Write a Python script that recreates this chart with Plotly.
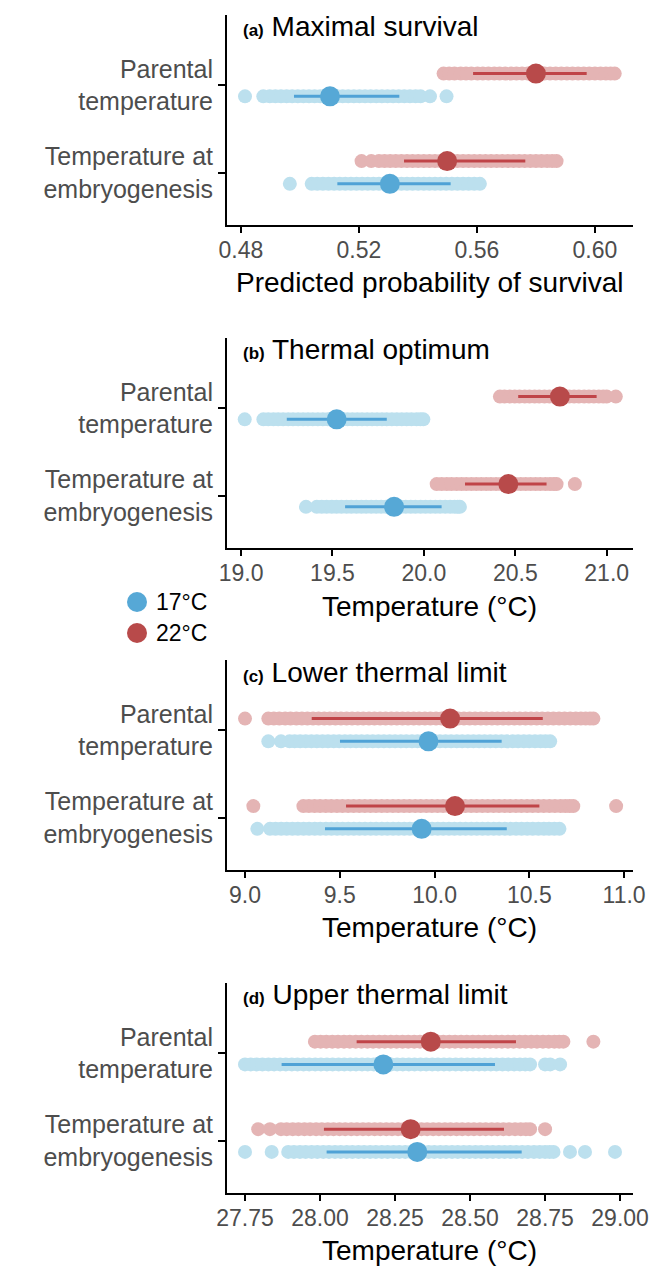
import plotly.graph_objects as go

W, H = 651, 1268

# ---------------- data ----------------
row_labels = ["Temperature at<br>embryogenesis", "Parental<br>temperature"]  # y = 1, 2
groups = ["17°C", "22°C"]

# (a) Maximal survival
a_par_22 = [0.5487, 0.5506, 0.5524, 0.5545, 0.5563, 0.5581, 0.5602, 0.5620, 0.5639, 0.5659, 0.5677, 0.5696,
            0.5716, 0.5734, 0.5753, 0.5772, 0.5791, 0.5810, 0.5829, 0.5848, 0.5867, 0.5886, 0.5905, 0.5924,
            0.5943, 0.5962, 0.5981, 0.6000, 0.6019, 0.6037, 0.6053, 0.6067]
a_par_17 = [0.4814, 0.4876, 0.4898, 0.4917, 0.4936, 0.4955, 0.4974, 0.4993, 0.5012, 0.5031, 0.5050, 0.5069,
            0.5088, 0.5107, 0.5126, 0.5145, 0.5164, 0.5183, 0.5202, 0.5221, 0.5240, 0.5259, 0.5278, 0.5297,
            0.5316, 0.5335, 0.5354, 0.5373, 0.5392, 0.5409, 0.5441, 0.5497]
a_emb_22 = [0.5209, 0.5242, 0.5268, 0.5287, 0.5306, 0.5325, 0.5344, 0.5363, 0.5382, 0.5401, 0.5420, 0.5439,
            0.5458, 0.5477, 0.5496, 0.5515, 0.5534, 0.5553, 0.5572, 0.5591, 0.5610, 0.5629, 0.5648, 0.5667,
            0.5686, 0.5705, 0.5724, 0.5743, 0.5762, 0.5781, 0.5800, 0.5819, 0.5838, 0.5855, 0.5870]
a_emb_17 = [0.4966, 0.5040, 0.5059, 0.5078, 0.5097, 0.5116, 0.5135, 0.5154, 0.5173, 0.5192, 0.5211, 0.5230,
            0.5249, 0.5268, 0.5287, 0.5306, 0.5325, 0.5344, 0.5363, 0.5382, 0.5401, 0.5420, 0.5439, 0.5458,
            0.5477, 0.5496, 0.5515, 0.5534, 0.5553, 0.5572, 0.5591, 0.5610]
a_mean_17 = [0.5305, 0.5102]   # [embryogenesis, parental]
a_lo_17 = [0.5127, 0.4980]
a_hi_17 = [0.5511, 0.5337]
a_mean_22 = [0.5499, 0.5800]
a_lo_22 = [0.5353, 0.5587]
a_hi_22 = [0.5764, 0.5972]
a_ticks = [0.48, 0.52, 0.56, 0.60]
a_ticktext = ["0.48", "0.52", "0.56", "0.60"]

# (b) Thermal optimum
b_par_22 = [20.416, 20.441, 20.470, 20.497, 20.523, 20.552, 20.578, 20.606, 20.631, 20.660, 20.687, 20.713,
            20.741, 20.768, 20.795, 20.822, 20.848, 20.877, 20.903, 20.930, 20.957, 20.981, 21.000, 21.050]
b_par_17 = [19.020, 19.122, 19.149, 19.177, 19.203, 19.230, 19.258, 19.284, 19.312, 19.339, 19.366, 19.392,
            19.420, 19.447, 19.474, 19.501, 19.527, 19.555, 19.582, 19.609, 19.636, 19.662, 19.690, 19.717,
            19.744, 19.771, 19.797, 19.825, 19.852, 19.879, 19.906, 19.932, 19.960, 19.981, 19.997]
b_emb_22 = [20.070, 20.097, 20.125, 20.151, 20.179, 20.206, 20.232, 20.260, 20.287, 20.314, 20.341, 20.367,
            20.395, 20.422, 20.449, 20.476, 20.502, 20.530, 20.557, 20.584, 20.611, 20.637, 20.665, 20.690,
            20.711, 20.726, 20.826]
b_emb_17 = [19.355, 19.414, 19.441, 19.468, 19.496, 19.522, 19.549, 19.577, 19.603, 19.631, 19.658, 19.684,
            19.712, 19.739, 19.766, 19.793, 19.819, 19.847, 19.874, 19.901, 19.928, 19.954, 19.982, 20.009,
            20.036, 20.063, 20.089, 20.117, 20.144, 20.168, 20.185, 20.197]
b_mean_17 = [19.837, 19.523]
b_lo_17 = [19.569, 19.25]
b_hi_17 = [20.097, 19.797]
b_mean_22 = [20.462, 20.744]
b_lo_22 = [20.225, 20.516]
b_hi_22 = [20.671, 20.945]
b_ticks = [19.0, 19.5, 20.0, 20.5, 21.0]
b_ticktext = ["19.0", "19.5", "20.0", "20.5", "21.0"]

# (c) Lower thermal limit
c_par_22 = [9.000, 9.123, 9.152, 9.181, 9.212, 9.240, 9.271, 9.300, 9.329, 9.359, 9.388, 9.418, 9.447, 9.477,
            9.506, 9.536, 9.565, 9.595, 9.624, 9.654, 9.683, 9.713, 9.742, 9.772, 9.801, 9.831, 9.860, 9.890,
            9.919, 9.949, 9.978, 10.008, 10.037, 10.067, 10.096, 10.126, 10.155, 10.185, 10.214, 10.244,
            10.273, 10.303, 10.332, 10.362, 10.391, 10.421, 10.450, 10.480, 10.509, 10.539, 10.568, 10.598,
            10.627, 10.657, 10.686, 10.716, 10.745, 10.772, 10.797, 10.820, 10.838]
c_par_17 = [9.123, 9.190, 9.235, 9.262, 9.291, 9.320, 9.350, 9.379, 9.409, 9.438, 9.468, 9.497, 9.527, 9.556,
            9.586, 9.615, 9.645, 9.674, 9.704, 9.733, 9.763, 9.792, 9.822, 9.851, 9.881, 9.910, 9.940, 9.969,
            9.999, 10.028, 10.058, 10.087, 10.117, 10.146, 10.176, 10.205, 10.235, 10.264, 10.294, 10.323,
            10.353, 10.382, 10.412, 10.441, 10.471, 10.500, 10.530, 10.559, 10.585, 10.610]
c_emb_22 = [9.044, 9.308, 9.337, 9.367, 9.396, 9.426, 9.455, 9.485, 9.514, 9.544, 9.573, 9.603, 9.632, 9.662,
            9.691, 9.721, 9.750, 9.780, 9.809, 9.839, 9.868, 9.898, 9.927, 9.957, 9.986, 10.016, 10.045,
            10.075, 10.104, 10.134, 10.163, 10.193, 10.222, 10.252, 10.281, 10.311, 10.340, 10.370, 10.399,
            10.429, 10.458, 10.488, 10.517, 10.547, 10.576, 10.606, 10.635, 10.665, 10.690, 10.712, 10.732,
            10.958]
c_emb_17 = [9.065, 9.132, 9.161, 9.191, 9.220, 9.250, 9.279, 9.309, 9.338, 9.368, 9.397, 9.427, 9.456, 9.486,
            9.515, 9.545, 9.574, 9.604, 9.633, 9.663, 9.692, 9.722, 9.751, 9.781, 9.810, 9.840, 9.869, 9.899,
            9.928, 9.958, 9.987, 10.017, 10.046, 10.076, 10.105, 10.135, 10.164, 10.194, 10.223, 10.253,
            10.282, 10.312, 10.341, 10.371, 10.400, 10.430, 10.459, 10.489, 10.518, 10.548, 10.577, 10.604,
            10.632, 10.659]
c_mean_17 = [9.932, 9.968]
c_lo_17 = [9.422, 9.501]
c_hi_17 = [10.381, 10.354]
c_mean_22 = [10.108, 10.082]
c_lo_22 = [9.533, 9.352]
c_hi_22 = [10.553, 10.571]
c_ticks = [9.0, 9.5, 10.0, 10.5, 11.0]
c_ticktext = ["9.0", "9.5", "10.0", "10.5", "11.0"]

# (d) Upper thermal limit
d_par_22 = [27.983, 28.002, 28.021, 28.041, 28.060, 28.080, 28.099, 28.119, 28.138, 28.158, 28.177, 28.197,
            28.216, 28.236, 28.255, 28.275, 28.294, 28.314, 28.333, 28.353, 28.372, 28.392, 28.411, 28.431,
            28.450, 28.470, 28.489, 28.509, 28.528, 28.548, 28.567, 28.587, 28.606, 28.626, 28.645, 28.665,
            28.684, 28.704, 28.723, 28.743, 28.762, 28.781, 28.797, 28.811, 28.911]
d_par_17 = [27.750, 27.769, 27.789, 27.808, 27.828, 27.847, 27.867, 27.886, 27.906, 27.925, 27.945, 27.964,
            27.984, 28.003, 28.023, 28.042, 28.062, 28.081, 28.101, 28.120, 28.140, 28.159, 28.179, 28.198,
            28.218, 28.237, 28.257, 28.276, 28.296, 28.315, 28.335, 28.354, 28.374, 28.393, 28.413, 28.432,
            28.452, 28.471, 28.491, 28.510, 28.530, 28.549, 28.569, 28.588, 28.608, 28.627, 28.647, 28.666,
            28.684, 28.700, 28.750, 28.767, 28.800]
d_emb_22 = [27.794, 27.833, 27.870, 27.889, 27.909, 27.928, 27.948, 27.967, 27.987, 28.006, 28.026, 28.045,
            28.065, 28.084, 28.104, 28.123, 28.143, 28.162, 28.182, 28.201, 28.221, 28.240, 28.260, 28.279,
            28.299, 28.318, 28.338, 28.357, 28.377, 28.396, 28.416, 28.435, 28.455, 28.474, 28.494, 28.513,
            28.533, 28.552, 28.572, 28.591, 28.611, 28.630, 28.650, 28.669, 28.686, 28.700, 28.750]
d_emb_17 = [27.750, 27.839, 27.894, 27.913, 27.933, 27.952, 27.972, 27.991, 28.011, 28.030, 28.050, 28.069,
            28.089, 28.108, 28.128, 28.147, 28.167, 28.186, 28.206, 28.225, 28.245, 28.264, 28.284, 28.303,
            28.323, 28.342, 28.362, 28.381, 28.401, 28.420, 28.440, 28.459, 28.479, 28.498, 28.518, 28.537,
            28.557, 28.576, 28.596, 28.615, 28.635, 28.654, 28.674, 28.693, 28.713, 28.732, 28.750, 28.765,
            28.778, 28.833, 28.883, 28.983]
d_mean_17 = [28.324, 28.211]
d_lo_17 = [28.022, 27.872]
d_hi_17 = [28.672, 28.583]
d_mean_22 = [28.302, 28.369]
d_lo_22 = [28.013, 28.122]
d_hi_22 = [28.613, 28.653]
d_ticks = [27.75, 28.00, 28.25, 28.50, 28.75, 29.00]
d_ticktext = ["27.75", "28.00", "28.25", "28.50", "28.75", "29.00"]

panel_titles = ["(a)", "(b)", "(c)", "(d)"]
panel_names = ["Maximal survival", "Thermal optimum", "Lower thermal limit", "Upper thermal limit"]
x_titles = ["Predicted probability of survival", "Temperature (°C)", "Temperature (°C)", "Temperature (°C)"]

# ---------------- style ----------------
FONT = "Liberation Sans, Arial, sans-serif"
LIGHT = {"17°C": "#BCE0EE", "22°C": "#E4B4B4"}
DARK = {"17°C": "#56A8D6", "22°C": "#B84A4A"}
LINEC = {"17°C": "#4FA2D6", "22°C": "#C04448"}
OFFSET = {"17°C": -0.13, "22°C": 0.13}

panels = [
    dict(samples={"17°C": [a_emb_17, a_par_17], "22°C": [a_emb_22, a_par_22]},
         mean={"17°C": a_mean_17, "22°C": a_mean_22}, lo={"17°C": a_lo_17, "22°C": a_lo_22},
         hi={"17°C": a_hi_17, "22°C": a_hi_22}, ticks=a_ticks, ticktext=a_ticktext, xrange=[0.4753, 0.6129]),
    dict(samples={"17°C": [b_emb_17, b_par_17], "22°C": [b_emb_22, b_par_22]},
         mean={"17°C": b_mean_17, "22°C": b_mean_22}, lo={"17°C": b_lo_17, "22°C": b_lo_22},
         hi={"17°C": b_hi_17, "22°C": b_hi_22}, ticks=b_ticks, ticktext=b_ticktext, xrange=[18.923, 21.144]),
    dict(samples={"17°C": [c_emb_17, c_par_17], "22°C": [c_emb_22, c_par_22]},
         mean={"17°C": c_mean_17, "22°C": c_mean_22}, lo={"17°C": c_lo_17, "22°C": c_lo_22},
         hi={"17°C": c_hi_17, "22°C": c_hi_22}, ticks=c_ticks, ticktext=c_ticktext, xrange=[8.905, 11.047]),
    dict(samples={"17°C": [d_emb_17, d_par_17], "22°C": [d_emb_22, d_par_22]},
         mean={"17°C": d_mean_17, "22°C": d_mean_22}, lo={"17°C": d_lo_17, "22°C": d_lo_22},
         hi={"17°C": d_hi_17, "22°C": d_hi_22}, ticks=d_ticks, ticktext=d_ticktext, xrange=[27.69, 29.043]),
]

panel_px = [(15, 225), (338, 548), (660, 870), (983, 1193)]
XL, XR = 227, 633
title_y = [44, 367, 690, 1012]
xtitle_y = [283, 606, 927, 1250]


def py(p):
    return 1 - p / H


fig = go.Figure()
layout = dict(
    width=W, height=H, margin=dict(l=0, r=0, t=0, b=0, autoexpand=False),
    paper_bgcolor="white", plot_bgcolor="white", showlegend=False,
    font=dict(family=FONT, color="black"),
)
annotations = []
shapes = []

for i, P in enumerate(panels):
    sfx = "" if i == 0 else str(i + 1)
    xa, ya = "x" + sfx, "y" + sfx
    # light sample points
    for g in groups:
        for r in range(2):
            vals = P["samples"][g][r]
            fig.add_trace(go.Scatter(
                x=vals, y=[r + 1 + OFFSET[g]] * len(vals), mode="markers",
                marker=dict(size=14, color=LIGHT[g], line=dict(width=0)),
                xaxis=xa, yaxis=ya, hoverinfo="skip"))
    # intervals
    for g in groups:
        for r in range(2):
            yy = r + 1 + OFFSET[g]
            fig.add_trace(go.Scatter(
                x=[P["lo"][g][r], P["hi"][g][r]], y=[yy, yy], mode="lines",
                line=dict(color=LINEC[g], width=3), xaxis=xa, yaxis=ya, hoverinfo="skip"))
    # means
    for g in groups:
        fig.add_trace(go.Scatter(
            x=P["mean"][g], y=[r + 1 + OFFSET[g] for r in range(2)], mode="markers",
            marker=dict(size=20, color=DARK[g], line=dict(width=0)),
            xaxis=xa, yaxis=ya, hoverinfo="skip"))

    top, bot = panel_px[i]
    layout["xaxis" + sfx] = dict(
        domain=[XL / W, XR / W], anchor=ya, range=P["xrange"], automargin=False,
        tickvals=P["ticks"], ticktext=P["ticktext"],
        showline=True, linecolor="black", linewidth=2, mirror=False,
        ticks="outside", ticklen=6, tickwidth=2, tickcolor="black",
        tickfont=dict(size=23, color="#4D4D4D", family=FONT),
        ticklabelstandoff=-3,
        showgrid=False, zeroline=False,
    )
    layout["yaxis" + sfx] = dict(
        domain=[py(bot), py(top)], anchor=xa, range=[0.4, 2.8], automargin=False,
        tickvals=[1, 2], ticktext=row_labels,
        showline=True, linecolor="black", linewidth=2,
        ticks="outside", ticklen=7, tickwidth=2, tickcolor="black",
        tickfont=dict(size=25, color="#4D4D4D", family=FONT),
        ticklabelstandoff=0,
        showgrid=False, zeroline=False,
    )
    annotations.append(dict(
        xref="paper", yref="paper", x=241 / W, y=py(title_y[i]), xanchor="left", yanchor="bottom",
        text="<b><span style='font-size:17px'>" + panel_titles[i] + "</span></b> " + panel_names[i],
        showarrow=False, font=dict(size=28, color="black", family=FONT)))
    annotations.append(dict(
        xref="paper", yref="paper", x=(XL + XR) / 2 / W, y=py(xtitle_y[i]), xanchor="center",
        yanchor="middle", text=x_titles[i], showarrow=False,
        font=dict(size=28, color="black", family=FONT)))

# legend
leg_y = [602, 633]
for g, yy in zip(groups, leg_y):
    shapes.append(dict(type="circle", xref="paper", yref="paper", xsizemode="pixel", ysizemode="pixel",
                       xanchor=137 / W, yanchor=py(yy), x0=-10, x1=10, y0=-10, y1=10,
                       fillcolor=DARK[g], line=dict(width=0)))
    annotations.append(dict(xref="paper", yref="paper", x=154 / W, y=py(yy), xanchor="left",
                            yanchor="middle", text=g, showarrow=False,
                            font=dict(size=23, color="black", family=FONT)))

layout["annotations"] = annotations
layout["shapes"] = shapes
fig.update_layout(**layout)
fig.write_html("out.html", config={"displayModeBar": False},
               post_script="document.body.style.margin='0';document.body.style.padding='0';")
